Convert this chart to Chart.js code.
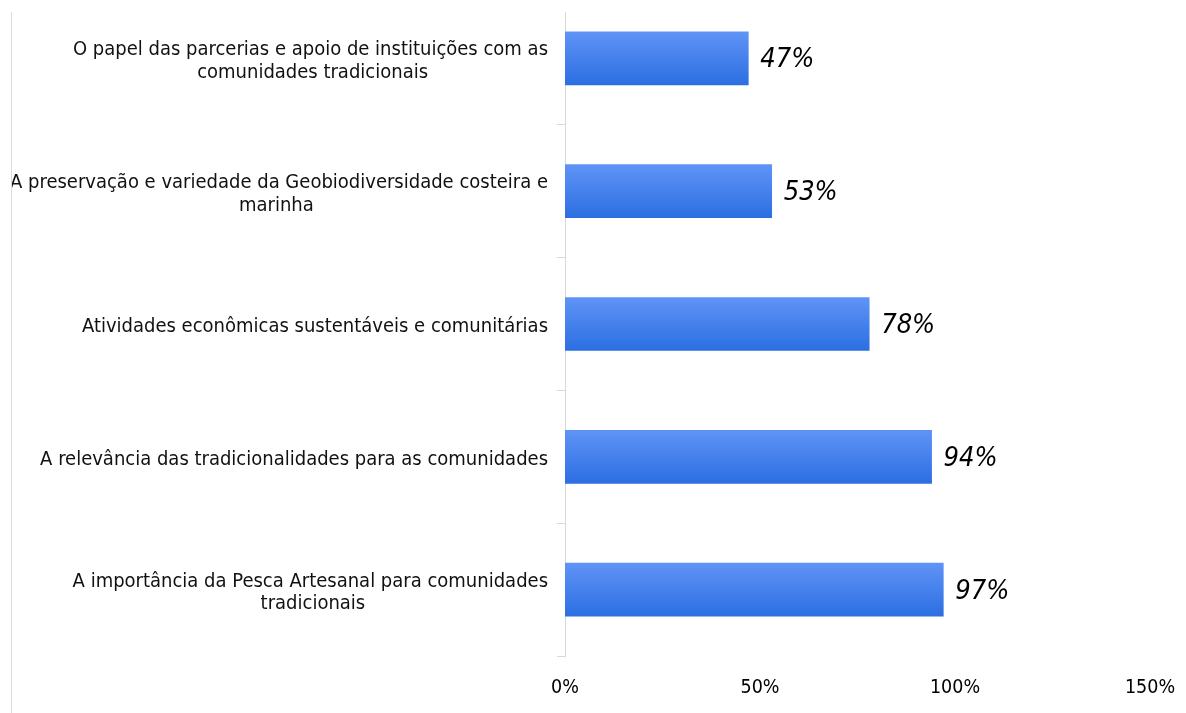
<!DOCTYPE html>
<html>
<head>
<meta charset="utf-8">
<script src="https://cdn.jsdelivr.net/npm/chart.js@4.4.1/dist/chart.umd.min.js"></script>
<style>
  html, body { margin: 0; padding: 0; background: #fff; overflow: hidden; }
  #page { position: relative; width: 1186px; height: 713px; overflow: hidden; }
  #wrap { position: absolute; left: 0; top: -18px; width: 1186px; height: 731px; }
  #leftline { position: absolute; left: 11px; top: 12px; width: 1px; height: 701px; background: #dcdcdc; }
  #topmask { position: absolute; left: 540px; top: 0; width: 60px; height: 12px; background: #fff; }
</style>
</head>
<body>
<div id="page">
  <div id="wrap"><canvas id="c" width="1186" height="731"></canvas></div>
  <div id="leftline"></div>
  <div id="topmask"></div>
</div>
<script>
const categories = [
  ["O papel das parcerias e apoio de instituições com as", "comunidades tradicionais"],
  ["A preservação e variedade da Geobiodiversidade costeira e", "marinha"],
  ["Atividades econômicas sustentáveis e comunitárias"],
  ["A relevância das tradicionalidades para as comunidades"],
  ["A importância da Pesca Artesanal para comunidades", "tradicionais"]
];
const values = [47, 53, 78, 94, 97];
const xTicks = [0, 50, 100, 150];

const FONT = "'DejaVu Sans Condensed', 'DejaVu Sans', sans-serif";
const LABEL_SIZE = 20;

// Center shorter lines of each multi-line label under right alignment by padding with spaces
const measureCtx = document.createElement('canvas').getContext('2d');
measureCtx.font = LABEL_SIZE + "px " + FONT;
function centeredLines(lines) {
  if (lines.length < 2) return lines;
  const widths = lines.map(l => measureCtx.measureText(l).width);
  const maxW = Math.max(...widths);
  const sp = measureCtx.measureText('\u00a0').width;
  return lines.map((l, i) => {
    const n = Math.round((maxW - widths[i]) / 2 / sp);
    return l + '\u00a0'.repeat(n);
  });
}

const valueLabels = {
  id: 'valueLabels',
  afterDatasetsDraw(chart) {
    const ctx = chart.ctx;
    const meta = chart.getDatasetMeta(0);
    ctx.save();
    ctx.font = "italic 27px " + FONT;
    ctx.fillStyle = '#000';
    ctx.textAlign = 'left';
    ctx.textBaseline = 'middle';
    meta.data.forEach((bar, i) => {
      ctx.fillText(values[i] + '%', bar.x + 12, bar.y + 2);
    });
    ctx.restore();
  }
};

new Chart(document.getElementById('c'), {
  type: 'bar',
  data: {
    labels: categories.map(centeredLines),
    datasets: [{
      data: values,
      barThickness: 53,
      backgroundColor(context) {
        const chart = context.chart;
        const ca = chart.chartArea;
        if (!ca) return '#3d7ff0';
        const y = chart.scales.y.getPixelForValue(context.dataIndex);
        const g = chart.ctx.createLinearGradient(0, y - 26, 0, y + 26);
        g.addColorStop(0, '#5f93f6');
        g.addColorStop(1, '#2c6fe2');
        return g;
      },
      borderWidth: 0
    }]
  },
  options: {
    indexAxis: 'y',
    responsive: false,
    animation: false,
    devicePixelRatio: 1,
    layout: { padding: { left: 12, top: 10, right: 36, bottom: 0 } },
    plugins: { legend: { display: false }, tooltip: { enabled: false } },
    scales: {
      y: {
        afterFit(scale) { scale.width = 553; scale.paddingTop = 0; scale.paddingBottom = 0; },
        grid: { display: true, drawOnChartArea: false, tickLength: 8, color: '#d9d9d9', offset: true },
        border: { display: true, color: '#d9d9d9' },
        ticks: {
          color: '#111',
          padding: 9,
          labelOffset: 3,
          font: { family: FONT, size: LABEL_SIZE, lineHeight: 1.12 },
          crossAlign: 'near'
        }
      },
      x: {
        min: 0,
        max: 150,
        afterFit(scale) { scale.height = 57; scale.paddingLeft = 0; scale.paddingRight = 0; },
        grid: { display: false, drawTicks: false },
        border: { display: false },
        afterBuildTicks(scale) { scale.ticks = xTicks.map(v => ({ value: v })); },
        ticks: {
          color: '#000',
          padding: 20,
          font: { family: FONT, size: 19.5 },
          callback: v => v + '%'
        }
      }
    }
  },
  plugins: [valueLabels]
});
</script>
</body>
</html>
